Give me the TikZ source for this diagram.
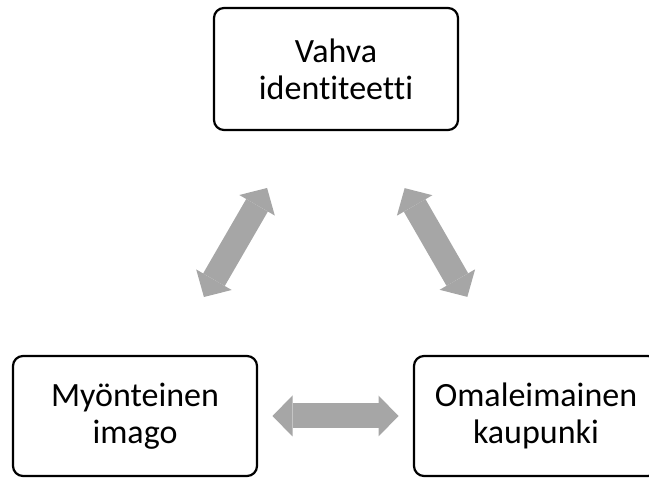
\documentclass[tikz,border=0pt]{standalone}
\usepackage{fontspec}
\setmainfont{Carlito}[Ligatures={NoCommon}]
\usetikzlibrary{arrows.meta}
\definecolor{arrowgrey}{HTML}{A6A6A6}
\begin{document}
\begin{tikzpicture}[x=1pt,y=-1pt,
  box/.style={draw=black, line width=2.2pt, rounded corners=10pt,
    minimum width=244pt, minimum height=120pt, inner sep=0pt,
    align=center, font=\fontsize{34}{37}\selectfont},
  link/.style={draw=arrowgrey, line width=25pt,
    {Triangle[width=41pt,length=20pt,line width=0pt]}-{Triangle[width=41pt,length=20pt,line width=0pt]},
    shorten <=137.5pt, shorten >=137.5pt}]
\useasboundingbox (0,0) rectangle (649,478);
\node[box, minimum height=122pt] (top) at (336,69) {Vahva\\identiteetti};
\node[box] (left) at (135,416) {Myönteinen\\imago};
\node[box] (right) at (536,416) {Omaleimainen\\kaupunki};
\draw[link] (top.center) -- (left.center);
\draw[link] (top.center) -- (right.center);
\draw[link] (left.center) -- (right.center);
\end{tikzpicture}
\end{document}
